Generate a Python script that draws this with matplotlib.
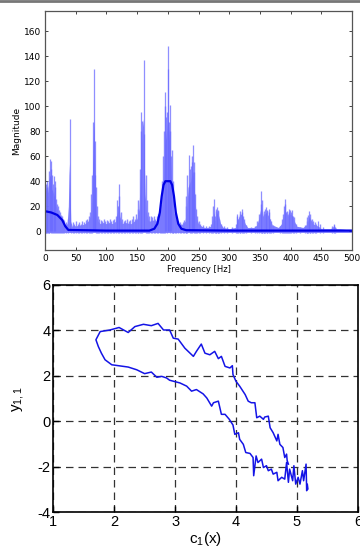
import matplotlib
matplotlib.use("Agg")
import matplotlib.pyplot as plt
import numpy as np

# ---- top panel: magnitude spectrum ----
env_freq = [0, 2, 4, 6, 8, 10, 12, 14, 16, 18, 20, 22, 25, 28, 30, 33, 36, 38, 39, 40, 41, 42, 44, 47,
            50, 55, 60, 65, 70, 74, 76, 78, 79, 80, 81, 82, 84, 86, 90, 95, 100, 105, 110, 115, 118,
            120, 122, 125, 130, 140, 145, 150, 153, 155, 157, 159, 160, 161, 162, 163, 165, 168, 170,
            175, 180, 185, 190, 193, 195, 197, 199, 200, 201, 203, 205, 207, 210, 215, 220, 225, 228,
            231, 233, 235, 237, 239, 241, 243, 245, 247, 250, 255, 260, 265, 270, 273, 275, 277, 280,
            283, 286, 290, 300, 310, 313, 316, 320, 323, 326, 330, 340, 345, 348, 350, 352, 355, 358,
            360, 363, 366, 370, 380, 385, 388, 390, 393, 396, 400, 403, 406, 410, 420, 425, 428, 430,
            433, 436, 440, 445, 450, 460, 465, 470, 475, 480, 490, 500]
env_mag = [30, 35, 30, 40, 45, 42, 30, 32, 25, 20, 18, 14, 12, 8, 7, 5, 6, 20, 45, 55, 30, 8, 4, 5,
           4, 5, 5, 6, 8, 12, 25, 60, 80, 90, 60, 30, 12, 8, 6, 7, 6, 7, 6, 8, 15,
           22, 12, 6, 7, 6, 8, 10, 18, 40, 70, 85, 90, 75, 50, 30, 15, 9, 8,
           9, 8, 10, 20, 45, 70, 75, 85, 90, 85, 70, 50, 30, 15, 7, 5, 6, 8,
           20, 35, 38, 40, 45, 48, 35, 20, 10, 6, 4, 3, 3, 4, 10, 15, 8, 15,
           12, 6, 3, 2, 3, 8, 12, 14, 10, 6, 3, 3, 5, 10, 15, 20, 12, 14,
           15, 13, 10, 5, 3, 6, 12, 18, 14, 12, 14, 12, 8, 4, 3, 5, 8, 12,
           9, 6, 5, 4, 2, 2, 2, 4, 2, 2, 1.5, 1.5]

# smaller spikes that make up the ragged body of the spectrum
noise_freq = [1, 2, 4, 5, 6, 7, 9, 11, 13, 14, 16, 18, 19, 21, 23, 24, 26, 27, 29, 31, 34,
              37, 43, 45, 48, 51, 53, 56, 58, 61, 63, 66, 68, 71, 73, 75, 77,
              83, 85, 87, 88, 91, 93, 96, 98, 101, 103, 106, 108, 111, 113, 116, 119, 121, 123,
              126, 128, 131, 133, 136, 138, 141, 143, 146, 148, 151, 152, 154, 156, 158, 164,
              166, 167, 169, 172, 174, 177, 179, 182, 184, 187, 189, 191, 192, 194, 196, 198,
              203, 206, 208, 209, 212, 214, 217, 219, 222, 224, 226, 229, 230, 232, 236, 238,
              240, 242, 244, 246, 248, 251, 253, 257, 262, 267, 271, 272, 274, 276, 278, 279,
              281, 282, 284, 287, 292, 296, 305, 311, 312, 314, 317, 318, 321, 322, 324, 327,
              335, 342, 346, 349, 351, 353, 354, 356, 357, 359, 361, 362, 364, 367, 368, 372,
              382, 386, 387, 389, 391, 392, 394, 395, 397, 399, 401, 404, 405, 408, 415, 424,
              426, 427, 429, 431, 432, 434, 437, 439, 442, 447, 452, 468, 471, 473]
noise_mag = [25, 38, 35, 28, 48, 36, 50, 45, 38, 28, 35, 26, 22, 20, 17, 15, 13, 12, 10, 9, 7,
             10, 6, 7, 6, 8, 6, 7, 6, 8, 7, 9, 10, 12, 15, 30, 45,
             35, 20, 12, 10, 9, 8, 10, 8, 9, 8, 10, 8, 9, 10, 12, 20, 28, 15,
             10, 8, 9, 10, 8, 9, 10, 12, 10, 14, 18, 25, 50, 80, 88, 45,
             25, 15, 12, 12, 11, 12, 10, 12, 14, 15, 22, 40, 60, 80, 100, 95,
             80, 65, 40, 25, 15, 10, 8, 7, 6, 7, 9, 20, 28, 45, 50, 52,
             60, 55, 30, 18, 12, 8, 6, 5, 4, 4, 6, 12, 20, 12, 16, 18,
             17, 16, 10, 6, 4, 3, 3, 6, 12, 10, 14, 16, 15, 12, 10, 5,
             3, 4, 8, 14, 22, 25, 15, 14, 16, 18, 17, 16, 15, 10, 8, 5,
             4, 10, 14, 20, 22, 15, 16, 14, 15, 17, 15, 12, 11, 6, 3, 5,
             8, 11, 13, 14, 10, 10, 8, 7, 6, 6, 3, 4, 5, 3]

# tall thin spikes
spike_freq = [3, 8, 10, 12, 15, 17, 40, 78, 80, 81, 82, 118, 120, 157, 161, 162, 195, 197, 200, 201,
              202, 204, 205, 234, 235, 239, 241, 243, 275, 280, 313, 320, 352, 360, 365, 390, 398,
              402, 430, 445, 470]
spike_mag = [40, 58, 56, 33, 44, 40, 90, 87, 130, 72, 45, 25, 38, 95, 137, 78, 111, 91, 148, 130,
             87, 101, 60, 61, 35, 55, 69, 47, 26, 19, 14, 18, 32, 19, 18, 26, 18, 17, 16, 8, 6]

filt_freq = [0, 10, 20, 28, 33, 38, 100, 170, 178, 183, 187, 190, 193, 196, 200, 204, 207, 210,
             213, 217, 222, 230, 300, 500]
filt_mag = [16, 15, 13, 9, 4, 1, 0.5, 0.5, 2, 6, 15, 28, 37, 40, 40, 40, 37, 28, 15, 6, 2, 0.8, 0.5, 0.5]

# ---- bottom panel: trajectory ----
traj_x = [4.86, 4.84, 4.83, 4.80, 4.77, 4.72, 4.69, 4.67, 4.61, 4.56, 4.53, 4.47, 4.45, 4.39, 4.34,
          4.31, 4.25, 4.20, 4.15, 4.06, 4.00, 3.95, 3.94, 3.90, 3.82, 3.76, 3.71, 3.65, 3.57, 3.49,
          3.43, 3.35, 3.30, 3.16, 3.05, 2.97, 2.91, 2.81, 2.72, 2.61, 2.48, 2.34, 2.23, 2.08, 1.93,
          1.77, 1.70, 1.74, 1.79, 1.85, 1.96, 2.23, 2.37, 2.50, 2.61, 2.70, 2.78, 2.86, 2.91, 3.08,
          3.19, 3.27, 3.35, 3.46, 3.52, 3.60, 3.63, 3.71, 3.76, 3.82, 3.89, 3.95, 3.98, 4.04, 4.06,
          4.12, 4.16, 4.23, 4.28, 4.29, 4.33, 4.36, 4.42, 4.45, 4.50, 4.53, 4.58, 4.61, 4.67, 4.69,
          4.75, 4.80, 4.83, 4.86, 4.88, 4.93, 4.95, 4.98, 5.02, 5.05, 5.09, 5.11, 5.15, 5.16, 5.17, 5.18]
traj_y = [-1.88, -1.73, -1.44, -1.59, -1.15, -1.01, -0.57, -0.86, -0.50, -0.28, 0.23, 0.19, 0.09,
          0.23, 0.16, 0.82, 0.82, 0.89, 1.18, 1.55, 1.76, 2.06, 2.45, 2.35, 2.42, 2.86, 2.76, 3.08,
          2.93, 3.00, 3.40, 3.08, 2.86, 3.22, 3.62, 3.66, 4.02, 4.02, 4.31, 4.21, 4.27, 4.17, 3.91,
          4.13, 4.02, 3.95, 3.59, 3.29, 3.00, 2.71, 2.49, 2.39, 2.27, 2.10, 2.17, 1.94, 1.98, 1.91,
          1.81, 1.69, 1.55, 1.33, 1.40, 1.21, 1.03, 0.67, 0.82, 0.89, 0.31, 0.31, 0.09, -0.16, -0.57,
          -0.50, -0.79, -1.01, -1.37, -1.41, -1.59, -2.39, -1.52, -1.81, -1.66, -2.03, -1.95, -2.17,
          -2.10, -2.32, -2.24, -2.61, -2.46, -2.54, -1.81, -2.68, -2.10, -2.61, -1.95, -2.76, -2.46,
          -2.76, -2.17, -2.61, -1.88, -3.05, -2.76, -2.97]

fig = plt.figure(figsize=(3.6, 5.51), dpi=100)
fig.add_artist(plt.Line2D([0, 1], [0.998, 0.998], color="#777777", lw=2, transform=fig.transFigure))

ax1 = fig.add_axes([0.125, 0.5463, 0.853, 0.4337])
ax1.fill_between(env_freq, -1, env_mag, color="#7373ff", lw=0, alpha=0.9)
ax1.vlines(noise_freq, -1.5, noise_mag, color="#7a7aff", lw=1.0, alpha=0.85)
ax1.vlines(spike_freq, 0, spike_mag, color="#6a6aff", lw=0.9, alpha=0.75)
ax1.plot(filt_freq, filt_mag, color="#0000e6", lw=1.6)
ax1.set_xlim(0, 500)
ax1.set_ylim(-15, 176)
ax1.set_xticks(np.arange(0, 501, 50))
ax1.set_yticks(np.arange(0, 161, 20))
ax1.tick_params(direction="in", length=2.5, width=0.7, labelsize=6.5, top=True, right=True,
                color="#444444", pad=3)
for s in ax1.spines.values():
    s.set_color("#555555")
    s.set_linewidth(0.9)
ax1.set_xlabel("Frequency [Hz]", fontsize=6, labelpad=1)
ax1.set_ylabel("Magnitude", fontsize=6.5, labelpad=2)

ax2 = fig.add_axes([0.148, 0.0702, 0.846, 0.4126])
ax2.plot(traj_x, traj_y, color="#1414e6", lw=1.1)
ax2.set_xlim(1, 6)
ax2.set_ylim(-4, 6)
ax2.set_xticks([1, 2, 3, 4, 5, 6])
ax2.set_yticks([-4, -2, 0, 2, 4, 6])
ax2.grid(True, color="#333333", lw=0.9, linestyle=(0, (6, 4)))
ax2.tick_params(direction="in", length=4, width=1, labelsize=10.5, pad=2)
ax2.set_xticklabels(["1", "2", "3", "4", "5", "6"], family="Liberation Sans")
ax2.set_yticklabels(["-4", "-2", "0", "2", "4", "6"], family="Liberation Sans")
for s in ax2.spines.values():
    s.set_linewidth(1.2)
ax2.set_xlabel(r"$\mathregular{c_1(x)}$", fontsize=11, family="Liberation Sans", labelpad=1)
ax2.set_ylabel(r"$\mathregular{y_{1,1}}$", fontsize=11, family="Liberation Sans", labelpad=8)

fig.savefig("out.png", dpi=100)
